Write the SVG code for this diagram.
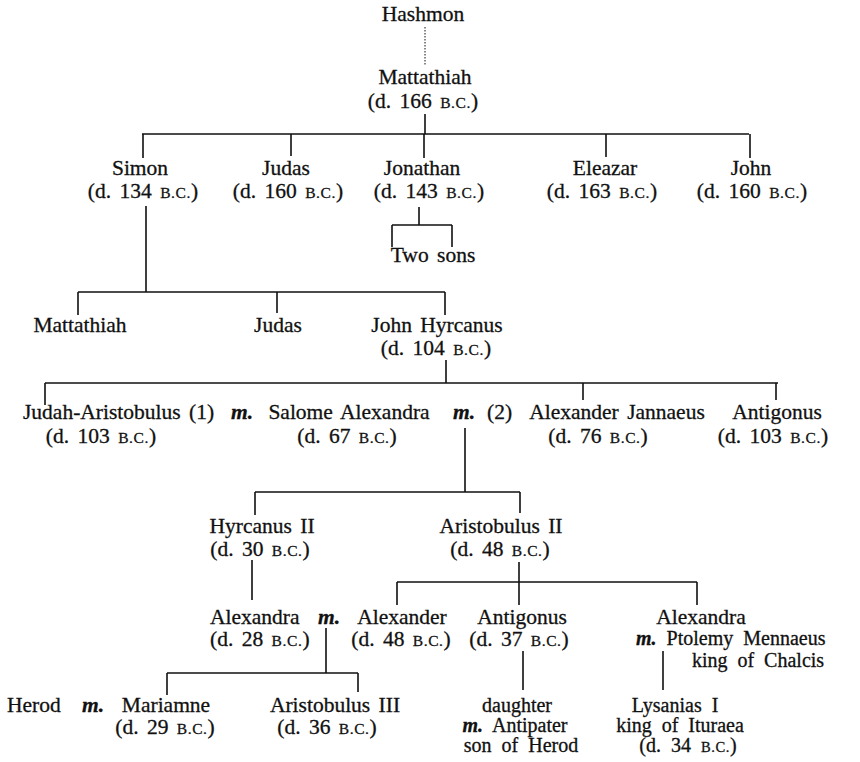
<svg xmlns="http://www.w3.org/2000/svg" width="860" height="762" viewBox="0 0 860 762">
<style>
text{font-family:"Liberation Serif","Times New Roman",serif;font-size:21.5px;fill:#111;stroke:#111;stroke-width:0.3;word-spacing:3px}
.c{text-anchor:middle}
.s{font-size:20px;word-spacing:5px}
.sc{font-size:15.5px;letter-spacing:0.6px}
.s .sc{font-size:14.5px}
.m{font-style:italic;font-weight:bold}
.ln{stroke:#111;stroke-width:1.6;fill:none}
.dot{stroke:#111;stroke-width:1;stroke-dasharray:1.5 1.5;fill:none}
</style>
<rect width="860" height="762" fill="#fff"/>
<g id="connectors">
<path class="dot" d="M425 27V66"/>
<path class="ln" d="M425 114V134M142 134H749M143 134V158M291 134V156M424 134V158M606 134V157M750 134V158"/>
<path class="ln" d="M419 207V225M392 225H452M392 225V247M452 225V247"/>
<path class="ln" d="M146 206V292M78 292H445M78 292V315M277 292V313M445 292V315"/>
<path class="ln" d="M446 360V383M45 383H778M45 383V405M583 383V400M776 383V400"/>
<path class="ln" d="M465 428V492M255 492H520M255 492V515M520 492V513"/>
<path class="ln" d="M252 560V600M519 562V582M397 582H697M397 582V605M519 582V605M697 582V605"/>
<path class="ln" d="M326 628V673M167 673H358M167 673V695M358 673V692"/>
<path class="ln" d="M523 651V690M663 651V690"/>
</g>
<g id="hashmon"><text class="c" x="423" y="21">Hashmon</text></g>
<g id="mattathiah"><text class="c" x="425" y="84">Mattathiah</text><text class="c" x="423" y="108">(d. 166 <tspan class="sc">B.C.</tspan>)</text></g>
<g id="simon"><text class="c" x="140" y="175">Simon</text><text class="c" x="143" y="198">(d. 134 <tspan class="sc">B.C.</tspan>)</text></g>
<g id="judas1"><text class="c" x="286" y="175">Judas</text><text class="c" x="288" y="198">(d. 160 <tspan class="sc">B.C.</tspan>)</text></g>
<g id="jonathan"><text class="c" x="422" y="175">Jonathan</text><text class="c" x="429" y="198">(d. 143 <tspan class="sc">B.C.</tspan>)</text></g>
<g id="eleazar"><text class="c" x="605" y="175">Eleazar</text><text class="c" x="602" y="198">(d. 163 <tspan class="sc">B.C.</tspan>)</text></g>
<g id="john"><text class="c" x="751" y="175">John</text><text class="c" x="752" y="198">(d. 160 <tspan class="sc">B.C.</tspan>)</text></g>
<g id="two-sons"><text class="c" x="433" y="262">Two sons</text></g>
<g id="mattathiah2"><text class="c" x="80" y="332">Mattathiah</text></g>
<g id="judas2"><text class="c" x="278" y="332">Judas</text></g>
<g id="john-hyrcanus"><text class="c" x="437" y="332">John Hyrcanus</text><text class="c" x="436" y="355">(d. 104 <tspan class="sc">B.C.</tspan>)</text></g>
<g id="judah-aristobulus"><text x="23" y="419">Judah-Aristobulus (1)</text><text class="c" x="101" y="443">(d. 103 <tspan class="sc">B.C.</tspan>)</text></g>
<g id="marriage1"><text class="m" x="231" y="419">m.</text></g>
<g id="salome-alexandra"><text class="c" x="349" y="419">Salome Alexandra</text><text class="c" x="347" y="443">(d. 67 <tspan class="sc">B.C.</tspan>)</text></g>
<g id="marriage2"><text class="m" x="453" y="419">m.</text></g>
<g id="alexander-jannaeus"><text x="487" y="419">(2)</text><text class="c" x="617" y="419">Alexander Jannaeus</text><text class="c" x="598" y="443">(d. 76 <tspan class="sc">B.C.</tspan>)</text></g>
<g id="antigonus1"><text class="c" x="777" y="419">Antigonus</text><text class="c" x="773" y="443">(d. 103 <tspan class="sc">B.C.</tspan>)</text></g>
<g id="hyrcanus2"><text class="c" x="262" y="533">Hyrcanus II</text><text class="c" x="260" y="556">(d. 30 <tspan class="sc">B.C.</tspan>)</text></g>
<g id="aristobulus2"><text class="c" x="501" y="533">Aristobulus II</text><text class="c" x="500" y="556">(d. 48 <tspan class="sc">B.C.</tspan>)</text></g>
<g id="alexandra1"><text x="210" y="624">Alexandra</text><text class="m" x="318" y="624">m.</text><text x="210" y="646">(d. 28 <tspan class="sc">B.C.</tspan>)</text></g>
<g id="alexander"><text class="c" x="402" y="624">Alexander</text><text class="c" x="401" y="646">(d. 48 <tspan class="sc">B.C.</tspan>)</text></g>
<g id="antigonus2"><text class="c" x="522" y="624">Antigonus</text><text class="c" x="519" y="646">(d. 37 <tspan class="sc">B.C.</tspan>)</text></g>
<g id="alexandra2"><text class="c" x="701" y="624">Alexandra</text><text class="s" x="636" y="645"><tspan class="m">m.</tspan> Ptolemy Mennaeus</text><text class="c s" x="758" y="667">king of Chalcis</text></g>
<g id="herod"><text x="7" y="712">Herod</text><text class="m" x="82" y="712">m.</text></g>
<g id="mariamne"><text class="c" x="166" y="712">Mariamne</text><text class="c" x="165" y="734">(d. 29 <tspan class="sc">B.C.</tspan>)</text></g>
<g id="aristobulus3"><text class="c" x="335" y="712">Aristobulus III</text><text class="c" x="327" y="734">(d. 36 <tspan class="sc">B.C.</tspan>)</text></g>
<g id="daughter"><text class="c s" x="517" y="712">daughter</text><text class="c s" x="515" y="732"><tspan class="m">m.</tspan> Antipater</text><text class="c s" x="521" y="752">son of Herod</text></g>
<g id="lysanias"><text class="c s" x="675" y="712">Lysanias I</text><text class="c s" x="680" y="732">king of Ituraea</text><text class="c s" x="688" y="752">(d. 34 <tspan class="sc">B.C.</tspan>)</text></g>
</svg>
